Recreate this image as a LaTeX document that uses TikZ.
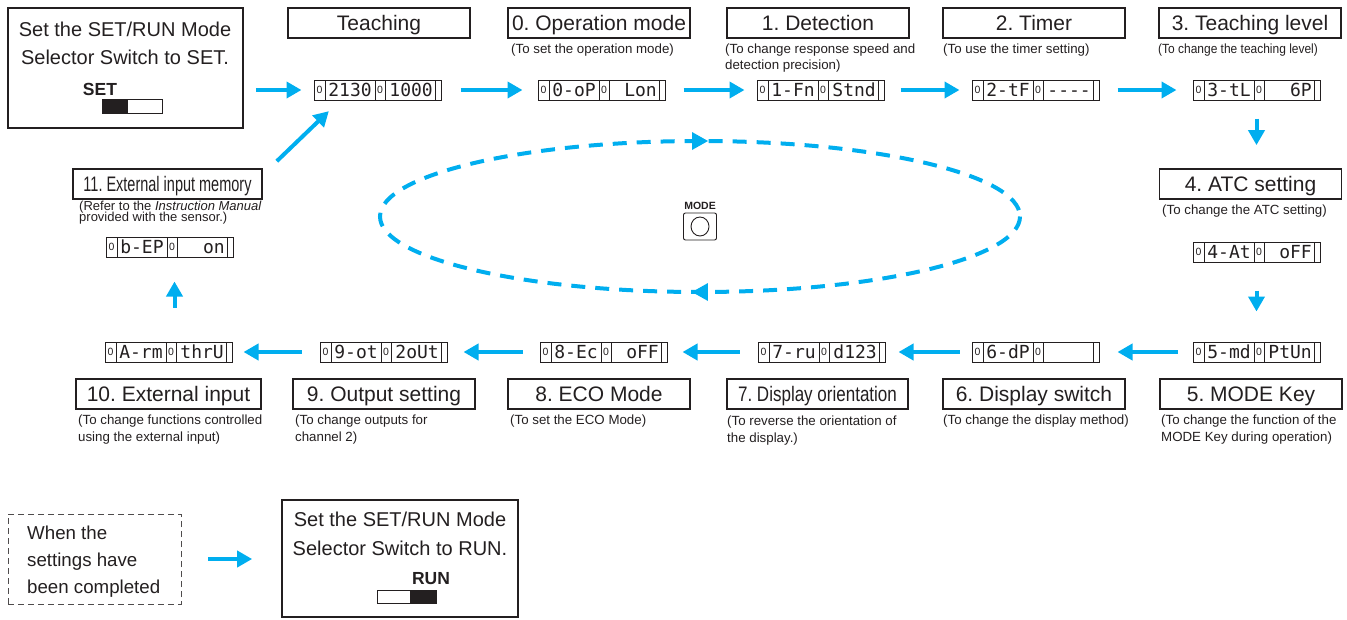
\documentclass[tikz,border=0pt]{standalone}
\usepackage{fontspec}
\setmainfont{Liberation Sans}
\newfontfamily\lcdfont{DejaVu Sans Mono}
\newfontfamily\narrowA[FakeStretch=0.69]{Liberation Sans}
\newfontfamily\narrowB[FakeStretch=0.81]{Liberation Sans}
\newfontfamily\narrowC[FakeStretch=0.9]{Liberation Sans}
\usetikzlibrary{arrows.meta,decorations.markings}
\definecolor{arrblue}{HTML}{00AEEF}
\definecolor{ink}{HTML}{231F20}
\frenchspacing
\tikzset{
  frame/.style={draw=ink, line width=1.7pt, inner sep=0pt},
  hdr/.style={frame, minimum width=182pt, minimum height=30pt, text height=15pt, text depth=0pt,
    font=\fontsize{21}{24}\selectfont, text=ink},
  sub/.style={anchor=base west, inner sep=0pt, font=\fontsize{13.3}{16}\selectfont, text=ink},
  bigtxt/.style={inner sep=0pt, font=\fontsize{20}{24}\selectfont, text=ink},
  swtxt/.style={inner sep=0pt, font=\bfseries\fontsize{17.5}{20}\selectfont, text=ink},
  lcdframe/.style={draw=ink, line width=1pt, minimum width=127pt, minimum height=20pt, inner sep=0pt},
  lcdtxt/.style={inner sep=0pt, text height=13pt, text depth=0pt, font=\lcdfont\fontsize{18}{18}\selectfont, text=ink},
  lcdzero/.style={inner sep=0pt, text height=7.5pt, text depth=0pt, font=\fontsize{10.5}{10.5}\selectfont, text=ink},
  flow/.style={draw=arrblue, line width=4pt, -{Triangle[length=15pt,width=16pt]}},
}
\newcommand\lcd[5]{%
  \node[lcdframe] (#1) at ({#2+63.5},#3) {};
  \draw[ink, line width=1pt] ({#2+11},{#3-10}) -- ({#2+11},{#3+10})
     ({#2+61},{#3-10}) -- ({#2+61},{#3+10})
     ({#2+71},{#3-10}) -- ({#2+71},{#3+10})
     ({#2+121},{#3-10}) -- ({#2+121},{#3+10});
  \node[lcdzero] (#1z1) at ({#2+5.5},#3) {0};
  \node[lcdzero] (#1z2) at ({#2+66},#3) {0};
  \node[lcdtxt] (#1a) at ({#2+36},#3) {#4};
  \node[lcdtxt, anchor=east] (#1b) at ({#2+119},#3) {#5};
}
\begin{document}
\begin{tikzpicture}[x=1pt,y=-1pt]
\useasboundingbox (0,0) rectangle (1347,619);

% start box
\node[frame, minimum width=235pt, minimum height=120pt] (setbox) at (125.5,68) {};
\node[bigtxt, anchor=base] (set1) at (125,36) {Set the SET/RUN Mode};
\node[bigtxt, anchor=base] (set2) at (125,64) {Selector Switch to SET.};
\node[swtxt, anchor=base] (setlbl) at (100,95) {SET};
\draw[ink, line width=0.9pt] (102,99) rectangle (162,113);
\fill[ink] (102,99) rectangle (128,113);

% headers top row
\node[hdr] (hT) at (379,23) {Teaching};
\node[hdr] (h0) at (599,23) {0. Operation mode};
\node[hdr] (h1) at (818,23) {1. Detection};
\node[hdr] (h2) at (1034,23) {2. Timer};
\node[hdr] (h3) at (1250,23) {3. Teaching level};
\node[hdr] (h4) at (1250.5,184) {4. ATC setting};
\node[hdr, minimum width=189pt, font=\narrowA\fontsize{21}{24}\selectfont] (h11) at (167.5,184) {11. External input memory};
\node[hdr, minimum width=185pt] (h10) at (168.5,394) {10. External input};
\node[hdr] (h9) at (384,394) {9. Output setting};
\node[hdr] (h8) at (599,394) {8. ECO Mode};
\node[hdr, minimum width=181pt, font=\narrowB\fontsize{21}{24}\selectfont] (h7) at (817.5,394) {7. Display orientation};
\node[hdr] (h6) at (1034,394) {6. Display switch};
\node[hdr] (h5) at (1251,394) {5. MODE Key};

% sub texts
\node[sub] (s0) at (511,53) {(To set the operation mode)};
\node[sub] (s1a) at (725,53) {(To change response speed and};
\node[sub] (s1b) at (725,69) {detection precision)};
\node[sub] (s2) at (943,53) {(To use the timer setting)};
\node[sub, font=\narrowC\fontsize{13.3}{16}\selectfont] (s3) at (1158,53) {(To change the teaching level)};
\node[sub] (s4) at (1162,214) {(To change the ATC setting)};
\node[sub, font=\fontsize{13}{13}\selectfont] (s11a) at (79,210) {(Refer to the \textit{Instruction Manual}};
\node[sub, font=\fontsize{13}{13}\selectfont] (s11b) at (79,221) {provided with the sensor.)};
\node[sub] (s10a) at (78,424) {(To change functions controlled};
\node[sub] (s10b) at (78,441) {using the external input)};
\node[sub] (s9a) at (295,424) {(To change outputs for};
\node[sub] (s9b) at (295,441) {channel 2)};
\node[sub] (s8) at (510,424) {(To set the ECO Mode)};
\node[sub] (s7a) at (727,425) {(To reverse the orientation of};
\node[sub] (s7b) at (727,442) {the display.)};
\node[sub] (s6) at (943,424) {(To change the display method)};
\node[sub] (s5a) at (1161,424) {(To change the function of the};
\node[sub] (s5b) at (1161,441) {MODE Key during operation)};

% displays
\lcd{dT}{314}{90}{2130}{1000}
\lcd{d0}{538}{90}{0-oP}{Lon}
\lcd{d1}{757}{90}{1-Fn}{Stnd}
\lcd{d2}{972}{90}{2-tF}{----}
\lcd{d3}{1193}{90}{3-tL}{6P}
\lcd{d4}{1193}{252}{4-At}{oFF}
\lcd{d5}{1193}{352}{5-md}{PtUn}
\lcd{d6}{972}{352}{6-dP}{}
\lcd{d7}{758}{352}{7-ru}{d123}
\lcd{d8}{540}{352}{8-Ec}{oFF}
\lcd{d9}{320}{352}{9-ot}{2oUt}
\lcd{d10}{105}{352}{A-rm}{thrU}
\lcd{d11}{106}{247}{b-EP}{on}

% arrows
\draw[flow, shorten <=12pt, shorten >=12pt] (setbox.east |- dT) -- (dT.west);
\draw[flow, shorten <=19pt, shorten >=15pt] (dT) -- (d0);
\draw[flow, shorten <=18pt, shorten >=12pt] (d0) -- (d1);
\draw[flow, shorten <=16pt, shorten >=12pt] (d1) -- (d2);
\draw[flow, shorten <=18pt, shorten >=16pt] (d2) -- (d3);
\draw[flow, shorten <=18pt, shorten >=23pt] (d3.south) -- (d3.south |- h4.north);
\draw[flow, shorten <=28pt, shorten >=30pt] (d4.south) -- (d5.north);
\draw[flow, shorten <=15pt, shorten >=18pt] (d5) -- (d6);
\draw[flow, shorten <=12pt, shorten >=13pt] (d6) -- (d7);
\draw[flow, shorten <=18pt, shorten >=15pt] (d7) -- (d8);
\draw[flow, shorten <=17pt, shorten >=16pt] (d8) -- (d9);
\draw[flow, shorten <=18pt, shorten >=11pt] (d9) -- (d10);
\draw[flow, shorten <=34pt, shorten >=24pt] ([xshift=6pt]d10.north) -- ([xshift=6pt]d10.north |- d11.south);
\draw[flow] (h11.north east) ++(14,-7) -- ++(52,-50);

% MODE loop
\draw[arrblue, line width=4pt, dash pattern=on 14pt off 10pt,
  decoration={markings,
    mark=at position 0.25 with {\fill[arrblue] (8,0) -- (-8,9) -- (-8,-9) -- cycle;},
    mark=at position 0.75 with {\fill[arrblue] (8,0) -- (-8,9) -- (-8,-9) -- cycle;}},
  postaction={decorate}] (700,216.5) ellipse [x radius=320, y radius=75.5];
\node[inner sep=0pt, font=\bfseries\fontsize{10.5}{10.5}\selectfont, text=ink] (modelbl) at (700,206) {MODE};
\node[draw=ink, line width=0.9pt, rounded corners=2pt, minimum width=33pt, minimum height=27pt, inner sep=0pt] (modebtn) at (700,226.5) {};
\draw[ink, line width=0.9pt] (modebtn.center) ellipse [x radius=9, y radius=9.5];

% completion
\node[draw=ink!80, line width=0.9pt, dash pattern=on 6pt off 4pt, minimum width=173pt, minimum height=90pt, inner sep=0pt] (donebox) at (94.5,559) {};
\node[sub, font=\fontsize{18.7}{22}\selectfont] (done1) at (27,539) {When the};
\node[sub, font=\fontsize{18.7}{22}\selectfont] (done2) at (27,566) {settings have};
\node[sub, font=\fontsize{18.7}{22}\selectfont] (done3) at (27,593) {been completed};
\node[frame, minimum width=236pt, minimum height=117pt] (runbox) at (400,558.5) {};
\draw[flow, shorten <=27pt, shorten >=29pt] (donebox.east) -- (donebox.east -| runbox.west);
\node[bigtxt, anchor=base] (run1) at (400,526) {Set the SET/RUN Mode};
\node[bigtxt, anchor=base] (run2) at (400,555) {Selector Switch to RUN.};
\node[swtxt, anchor=base] (runlbl) at (431,584) {RUN};
\draw[ink, line width=0.9pt] (377,590) rectangle (436,603);
\fill[ink] (410,590) rectangle (436,603);
\end{tikzpicture}
\end{document}
